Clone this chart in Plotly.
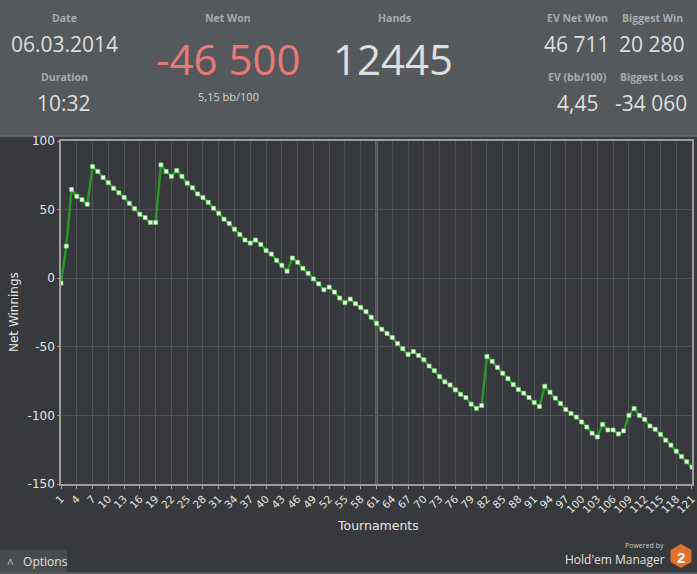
import plotly.graph_objects as go

# Données (gains nets cumulés par tournoi)
tournaments = list(range(1, 122))
net_winnings = [
    -3.6, 23.4, 64.7, 59.7, 57.2, 53.9, 81.4, 77.8, 73.4, 69.6,
    65.5, 62.3, 58.9, 54.6, 50.7, 46.6, 44.2, 40.6, 40.6, 82.6,
    77.8, 74.2, 78.5, 74.2, 69.3, 65.9, 61.4, 58.7, 55.3, 51.0,
    47.3, 43.0, 39.9, 35.7, 31.9, 27.8, 25.6, 27.8, 24.6, 20.1,
    17.6, 13.0, 9.4, 5.1, 14.7, 11.6, 7.2, 3.6, -0.5, -4.1,
    -8.5, -6.5, -10.1, -14.5, -17.9, -15.2, -18.6, -21.3, -24.4, -28.5,
    -32.9, -37.2, -40.3, -43.2, -47.6, -51.4, -55.6, -53.4, -56.3, -59.4,
    -64.0, -67.4, -71.7, -75.6, -77.8, -81.4, -84.6, -87.0, -91.8, -94.9,
    -92.8, -57.0, -60.6, -65.0, -69.3, -73.2, -77.5, -81.2, -83.8, -87.0,
    -90.6, -93.5, -78.7, -83.1, -87.4, -91.3, -95.7, -98.6, -101.2, -104.8,
    -108.5, -113.0, -115.7, -106.5, -110.6, -110.6, -113.5, -111.3, -100.0, -94.9,
    -100.0, -102.9, -107.7, -110.1, -113.8, -118.1, -121.7, -126.1, -130.0, -133.8,
    -137.7,
]
tick_vals = list(range(1, 122, 3))
y_ticks = [-150, -100, -50, 0, 50, 100]
y_tick_text = ["-150", "-100", "-50", "0", "50", "100"]
highlight_tournament = 61

# Bandeau de stats
stat_labels = ["Date", "Duration", "Net Won", "Hands", "EV Net Won", "Biggest Win", "EV (bb/100)", "Biggest Loss"]
stat_values = ["06.03.2014", "10:32", "-46 500", "12445", "46 711", "20 280", "4,45", "-34 060"]
net_won_bb = "5,15 bb/100"

W, H = 697, 574
PL, PR, PT, PB = 61, 692, 141, 484

HEADER_BG = "#56595c"
CHART_BG = "#37393c"
LABEL_COLOR = "#a9acae"
VALUE_COLOR = "#dedede"
UI_FONT = "Open Sans"
AXIS_FONT = "DejaVu Sans"


def px(x):
    """Pixel horizontal -> coordonnée paper."""
    return (x - PL) / (PR - PL)


def py(y):
    """Pixel vertical -> coordonnée paper."""
    return (PB - y) / (PB - PT)


fig = go.Figure()
fig.add_trace(
    go.Scatter(
        x=tournaments,
        y=net_winnings,
        mode="lines+markers",
        line={"color": "#279a27", "width": 2.4},
        marker={"size": 4, "color": "#eaffe4", "symbol": "square", "line": {"width": 0.6, "color": "#6fd66f"}},
        hoverinfo="x+y",
        showlegend=False,
    )
)

shapes = [
    # bandeau supérieur
    dict(type="rect", xref="paper", yref="paper", x0=px(0), x1=px(W), y0=py(135), y1=py(0),
         fillcolor=HEADER_BG, line={"width": 0}, layer="below"),
    dict(type="rect", xref="paper", yref="paper", x0=px(0), x1=px(W), y0=py(137), y1=py(135),
         fillcolor="#5f6265", line={"width": 0}, layer="below"),
    # bouton Options
    dict(type="rect", xref="paper", yref="paper", x0=px(0), x1=px(67), y0=py(572), y1=py(550),
         fillcolor="#494c4f", line={"width": 0}, layer="below"),
    dict(type="rect", xref="paper", yref="paper", x0=px(0), x1=px(W), y0=py(574), y1=py(572),
         fillcolor="#56595c", line={"width": 0}, layer="below"),
    # ligne verticale du tournoi sélectionné
    dict(type="line", xref="x", yref="paper", x0=highlight_tournament, x1=highlight_tournament, y0=0, y1=1,
         line={"color": "#8c8e90", "width": 2}, layer="below"),
]

# logo hexagonal
cx, cy, r = 681, 556, 12
hexa = [(cx, cy - r), (cx + 0.87 * r, cy - r / 2), (cx + 0.87 * r, cy + r / 2),
        (cx, cy + r), (cx - 0.87 * r, cy + r / 2), (cx - 0.87 * r, cy - r / 2)]
path = "M " + " L ".join(f"{px(a):.5f},{py(b):.5f}" for a, b in hexa) + " Z"
shapes.append(dict(type="path", xref="paper", yref="paper", path=path, fillcolor="#e2722c", line={"width": 0}))

annotations = []


def add_text(text, x, y, size, color, font=UI_FONT, xanchor="center"):
    annotations.append(dict(text=text, x=px(x), y=py(y), xref="paper", yref="paper", showarrow=False,
                            xanchor=xanchor, yanchor="middle", font={"family": font, "size": size, "color": color}))


label_pos = [(64, 18), (64, 77), (228, 18), (394, 18), (577, 18), (652, 18), (577, 77), (652, 77)]
value_pos = [(64, 44, 21), (64, 103, 21), (228, 58, 42), (393, 58, 42), (577, 44, 21), (652, 44, 21),
             (577, 103, 21), (651, 103, 21)]
for label, (lx, ly) in zip(stat_labels, label_pos):
    add_text(f"<b>{label}</b>", lx, ly, 10.5, LABEL_COLOR)
for val, (vx, vy, vs) in zip(stat_values, value_pos):
    color = "#e87878" if val == "-46 500" else VALUE_COLOR
    add_text(val, vx, vy, vs, color)
add_text(net_won_bb, 228, 96, 11, "#d4d4d4")

add_text("˄   Options", 5, 561, 12, "#e0e0e0", xanchor="left")
add_text("Powered by", 666, 545, 7, "#c8c8c8", xanchor="right")
add_text("Hold'em Manager", 667, 559, 12, "#e0e0e0", xanchor="right")
add_text("<b>2</b>", 681, 557, 15, "#ffffff", font="Arial")

add_text("Net Winnings", 14, 312, 12, "#e6e6e6", font=AXIS_FONT)
add_text("Tournaments", 378, 525, 12.5, "#e6e6e6", font=AXIS_FONT)
annotations[-2]["textangle"] = -90

fig.update_layout(
    width=W,
    height=H,
    autosize=False,
    margin={"l": PL, "r": W - PR, "t": PT, "b": H - PB, "pad": 0, "autoexpand": False},
    paper_bgcolor=CHART_BG,
    plot_bgcolor=CHART_BG,
    shapes=shapes,
    annotations=annotations,
    showlegend=False,
)
fig.update_xaxes(
    range=[0.999, 121.001],
    automargin=False,
    tickmode="array",
    tickvals=tick_vals,
    tickangle=-45,
    ticklabeloverflow="allow",
    tickfont={"family": AXIS_FONT, "size": 10.5, "color": "#e6e6e6"},
    ticks="outside",
    ticklen=3,
    tickcolor="#9a9c9e",
    showgrid=True,
    gridcolor="#505356",
    gridwidth=1,
    showline=True,
    linecolor="#9a9c9e",
    linewidth=1.5,
    mirror=True,
    zeroline=False,
)
fig.update_yaxes(
    range=[-150, 100],
    automargin=False,
    tickmode="array",
    tickvals=y_ticks,
    ticktext=y_tick_text,
    tickfont={"family": AXIS_FONT, "size": 12, "color": "#e6e6e6"},
    ticks="outside",
    ticklen=2,
    tickcolor="#9a9c9e",
    showgrid=True,
    gridcolor="#505356",
    gridwidth=1,
    showline=True,
    linecolor="#9a9c9e",
    linewidth=1.5,
    mirror=True,
    zeroline=False,
)

# la page a une marge par défaut de 8 px : on la supprime pour coller au cadre
fig.write_html(
    "out.html",
    config={"displayModeBar": False},
    post_script="document.body.style.margin='0';document.body.style.overflow='hidden';",
)
